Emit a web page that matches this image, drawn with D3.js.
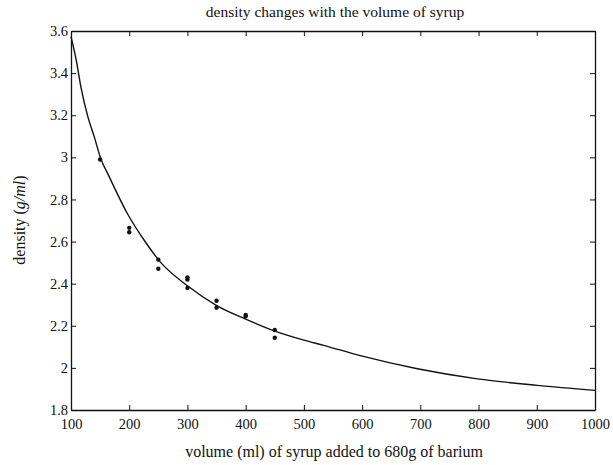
<!DOCTYPE html>
<html>
<head>
<meta charset="utf-8">
<script src="https://cdn.jsdelivr.net/npm/d3@7"></script>
<style>
  body { margin: 0; background: #fff; }
  text { font-family: "Liberation Serif", "DejaVu Serif", serif; fill: #111; }
</style>
</head>
<body>
<div id="chart"></div>
<script>
// fitted curve
const curveX = [100, 109, 117, 129, 140, 151, 166, 197, 226, 254, 300, 351, 400, 449, 500, 534, 597, 695, 798, 901, 1000]
const curveY = [3.573, 3.462, 3.335, 3.192, 3.097, 2.995, 2.906, 2.732, 2.605, 2.501, 2.39, 2.295, 2.232, 2.176, 2.132, 2.107, 2.058, 1.996, 1.948, 1.917, 1.893]

// measured points
const pointX = [150, 200, 200, 250, 250, 300, 300, 300, 350, 350, 400, 400, 450, 450]
const pointY = [2.99, 2.665, 2.644, 2.514, 2.471, 2.43, 2.42, 2.38, 2.319, 2.286, 2.252, 2.245, 2.18, 2.143]

const xTicks = [100, 200, 300, 400, 500, 600, 700, 800, 900, 1000]
const yTicks = [1.8, 2, 2.2, 2.4, 2.6, 2.8, 3, 3.2, 3.4, 3.6]

const width = 613, height = 465
const margin = {top: 31, right: 18, bottom: 55, left: 71}

const svg = d3.select('#chart').append('svg')
    .attr('width', width)
    .attr('height', height)

const x = d3.scaleLinear().domain([100, 1000]).range([margin.left, width - margin.right])
const y = d3.scaleLinear().domain([1.8, 3.6]).range([height - margin.bottom, margin.top])

const tickLen = 5

// axes, ticks pointing inward like matlab
svg.append('g')
    .attr('transform', `translate(0,${y(1.8)})`)
    .call(d3.axisBottom(x).tickValues(xTicks).tickSizeInner(-tickLen).tickSizeOuter(0).tickPadding(9).tickFormat(d3.format('')))
svg.append('g')
    .attr('transform', `translate(0,${y(3.6)})`)
    .call(d3.axisTop(x).tickValues(xTicks).tickSizeInner(-tickLen).tickSizeOuter(0).tickFormat(''))
svg.append('g')
    .attr('transform', `translate(${x(100)},0)`)
    .call(d3.axisLeft(y).tickValues(yTicks).tickSizeInner(-tickLen).tickSizeOuter(0).tickPadding(3).tickFormat(d3.format('')))
svg.append('g')
    .attr('transform', `translate(${x(1000)},0)`)
    .call(d3.axisRight(y).tickValues(yTicks).tickSizeInner(-tickLen).tickSizeOuter(0).tickFormat(''))

svg.selectAll('.domain').attr('stroke', '#111').attr('stroke-width', 1.3)
svg.selectAll('.tick line').attr('stroke', '#111')
svg.selectAll('.tick text').attr('font-size', 14.5).style('font-family', '"Liberation Serif", serif').attr('fill', '#111')

const line = d3.line()
    .x(d => x(d[0]))
    .y(d => y(d[1]))
    .curve(d3.curveMonotoneX)

svg.append('path')
    .datum(d3.zip(curveX, curveY))
    .attr('d', line)
    .attr('fill', 'none')
    .attr('stroke', '#111')
    .attr('stroke-width', 1.4)

svg.selectAll('circle.pt')
    .data(d3.zip(pointX, pointY))
    .enter()
    .append('circle')
    .attr('class', 'pt')
    .attr('cx', d => x(d[0]))
    .attr('cy', d => y(d[1]))
    .attr('r', 2.2)
    .attr('fill', '#111')

// labels
svg.append('text')
    .attr('x', 335)
    .attr('y', 17)
    .attr('text-anchor', 'middle')
    .attr('font-size', 15.5)
    .text('density changes with the volume of syrup')

svg.append('text')
    .attr('x', 334)
    .attr('y', 457)
    .attr('text-anchor', 'middle')
    .attr('font-size', 16)
    .text('volume (ml) of syrup added to 680g of barium')

const ylab = svg.append('text')
    .attr('transform', `translate(25,220) rotate(-90)`)
    .attr('text-anchor', 'middle')
    .attr('font-size', 16)
ylab.append('tspan').text('density (')
ylab.append('tspan').attr('font-style', 'italic').text('g/ml')
ylab.append('tspan').text(')')
</script>
</body>
</html>
